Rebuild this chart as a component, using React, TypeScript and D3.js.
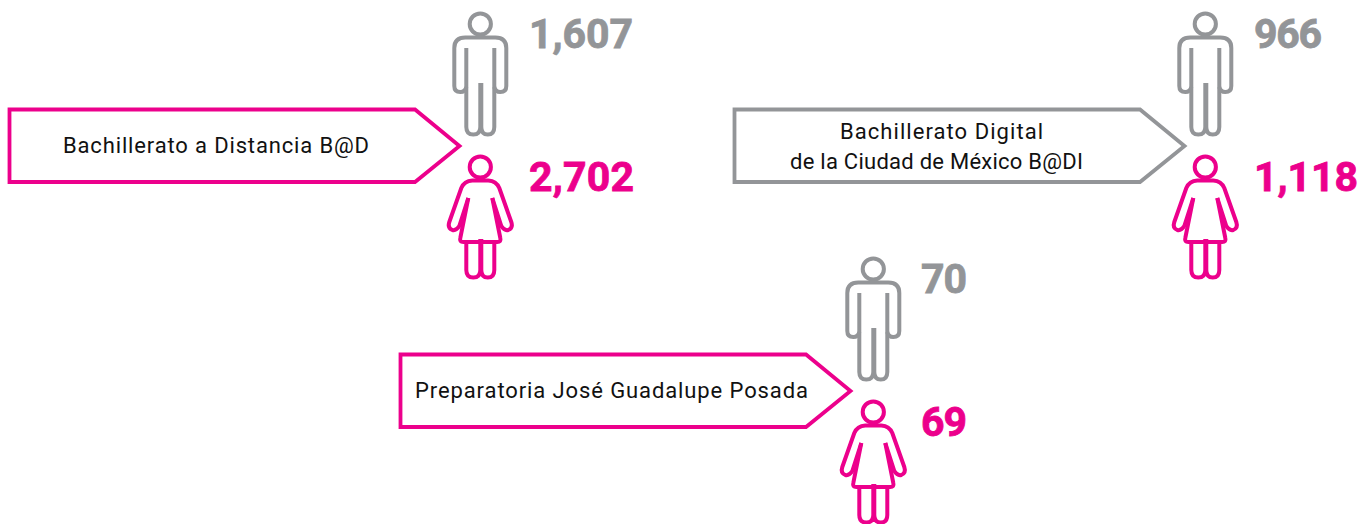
import React from 'react'
import * as d3 from 'd3'

// data
const programLines = [
  ['Bachillerato a Distancia B@D'],
  ['Bachillerato Digital', 'de la Ciudad de México B@DI'],
  ['Preparatoria José Guadalupe Posada'],
]
const menValues = [1607, 966, 70]
const womenValues = [2702, 1118, 69]
const boxColors = ['#ec008c', '#939598', '#ec008c']

const GRAY = '#939598'
const PINK = '#ec008c'
const fmt = d3.format(',')

// where each group sits, relative to the first one
const offsets = [
  { x: 0, y: 0, icon: 0, num: 0 },
  { x: 725, y: 0, icon: 725, num: 725 },
  { x: 391, y: 245, icon: 393, num: 392 },
]

// the original font is DIN, so widths are forced to fit it
const labelBoxes = [
  [{ left: 63, width: 306 }],
  [{ left: 840, width: 203 }, { left: 790, width: 293 }],
  [{ left: 415, width: 393 }],
]
const menWidths = [104, 68, 46]
const womenWidths = [105, 104, 46]

const line = d3.line()

const arrowPts: [number, number][] = [
  [9.5, 109.5],
  [415, 109.5],
  [459.5, 146],
  [415, 182],
  [9.5, 182],
]

const Man = ({ x, y }: { x: number; y: number }) => (
  <g transform={`translate(${x},${y})`} fill="none" stroke={GRAY} strokeWidth={4}>
    <circle cx={0} cy={24} r={10.6} />
    <path d="M-14,48V127Q-14,134.500 -7,134.500Q0,134.500 0,127V85H1V127Q1,134.500 7.500,134.500Q14,134.500 14,127V48" />
    <path d="M-14,87Q-15,92 -20,92Q-26,92 -26,86V48Q-26,37.500 -15,37.500H15Q26,37.500 26,48V86Q26,92 20,92Q15,92 14,87" />
  </g>
)

const Woman = ({ x, y }: { x: number; y: number }) => (
  <g transform={`translate(${x},${y})`} fill="none" stroke={PINK} strokeWidth={4}>
    <circle cx={0} cy={167} r={10.6} />
    <path d="M-14,242V270Q-14,277.500 -7,277.500Q0,277.500 0,270V241H1V270Q1,277.500 7.500,277.500Q14,277.500 14,270V242" />
    <path d="M-12,198L-20,238Q-21,242 -17,242H17Q21,242 20,238L12,198" />
    <path d="M-12,198L-21,226Q-24,231 -28,230Q-33,228 -31,222L-19,188Q-16,181 -8,180.500H8Q16,181 19,188L31,222Q33,228 28,230Q24,231 21,226L12,198" />
  </g>
)

export default function App() {
  return (
    <svg
      width={1369}
      height={524}
      style={{ position: 'absolute', left: 0, top: 0, background: '#fff' }}
      fontFamily="Roboto"
    >
      {programLines.map((lines, i) => {
        const o = offsets[i]
        const multi = lines.length > 1
        return (
          <g key={i}>
            <path
              d={line(arrowPts.map(([px, py]) => [px + o.x, py + o.y] as [number, number])) + 'Z'}
              fill="none"
              stroke={boxColors[i]}
              strokeWidth={3.8}
            />
            {lines.map((t, j) => (
              <text
                key={j}
                x={labelBoxes[i][j].left}
                y={(multi ? 139 + j * 30 : 153) + o.y}
                textLength={labelBoxes[i][j].width}
                lengthAdjust="spacing"
                fontSize={22}
                fill="#111"
              >
                {t}
              </text>
            ))}
            <Man x={480.3 + o.icon} y={o.y} />
            <Woman x={480.3 + o.icon} y={o.y} />
            <text
              x={529 + o.num}
              y={48 + o.y}
              textLength={menWidths[i]}
              lengthAdjust="spacing"
              fontSize={41}
              fontWeight={700}
              fill={GRAY}
              stroke={GRAY}
              strokeWidth={0.8}
            >
              {fmt(menValues[i])}
            </text>
            <text
              x={529 + o.num}
              y={191 + o.y}
              textLength={womenWidths[i]}
              lengthAdjust="spacing"
              fontSize={41}
              fontWeight={700}
              fill={PINK}
              stroke={PINK}
              strokeWidth={0.8}
            >
              {fmt(womenValues[i])}
            </text>
          </g>
        )
      })}
    </svg>
  )
}
